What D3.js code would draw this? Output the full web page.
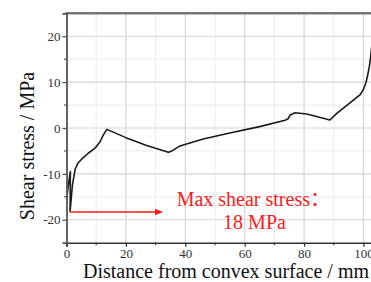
<!DOCTYPE html>
<html>
<head>
<meta charset="utf-8">
<script src="https://cdn.jsdelivr.net/npm/d3@7"></script>
<style>
  html, body { margin: 0; padding: 0; background: #fff; overflow: hidden; }
  svg { display: block; }
  svg text { font-family: "Liberation Serif", "Times New Roman", "Noto Sans CJK SC", serif !important; }
</style>
</head>
<body>
<div id="chart"></div>
<script>
// ---- data ----
const distance = [0, 0.5, 1.3, 1.2, 2.0, 2.9, 3.8, 5.1, 7.3, 9.6, 11.3, 12.4, 13.6, 20, 27, 34.3, 35.5, 38.2, 46, 55, 65, 73.6, 74.6, 75.3, 76.9, 80.9, 84.8, 88.7, 91, 94.5, 97, 98.8, 99.9, 100.8, 101.4, 102.0, 102.4, 102.8];
const shearStress = [-15.7, -13, -9.5, -18.2, -12.4, -9.0, -7.7, -6.8, -5.5, -4.4, -3.0, -1.5, -0.3, -2.1, -3.8, -5.3, -5.0, -3.9, -2.4, -1.1, 0.3, 1.7, 2.0, 2.85, 3.33, 3.05, 2.4, 1.74, 3.2, 5.0, 6.3, 7.2, 8.3, 9.8, 11.5, 13.5, 15.5, 18];
const xTicks = [0, 20, 40, 60, 80, 100];
const xMinorTicks = [10, 30, 50, 70, 90];
const yTicks = [-20, -10, 0, 10, 20];
const yMinorTicks = [-15, -5, 5, 15];
const arrowX = [1.2, 32.5];
const arrowY = -18.3;
const annotationLines = ["Max shear stress：", "18 MPa"];
const xLabel = "Distance from convex surface / mm";
const yLabel = "Shear stress / MPa";

// ---- layout ----
const W = 371, H = 282;
const mLeft = 66.5, mTop = 13.3, plotH = 229.4;
const xDomain = [0, 105], yDomain = [-25, 25];
const pxPerMm = 2.97;

const svg = d3.select("#chart").append("svg").attr("width", W).attr("height", H);

const x = d3.scaleLinear().domain(xDomain).range([mLeft, mLeft + pxPerMm * (xDomain[1] - xDomain[0])]);
const y = d3.scaleLinear().domain(yDomain).range([mTop + plotH, mTop]);
const x0 = x.range()[0], x1 = x.range()[1], y0 = y.range()[0], y1 = y.range()[1];

// grid
const grid = svg.append("g");
grid.selectAll(".gxm").data(xMinorTicks).join("line")
  .attr("x1", d => x(d)).attr("x2", d => x(d)).attr("y1", y1).attr("y2", y0)
  .attr("stroke", "#ececec").attr("stroke-width", 1);
grid.selectAll(".gym").data(yMinorTicks).join("line")
  .attr("y1", d => y(d)).attr("y2", d => y(d)).attr("x1", x0).attr("x2", x1)
  .attr("stroke", "#ececec").attr("stroke-width", 1);
grid.selectAll(".gx").data(xTicks.filter(d => d > 0)).join("line")
  .attr("x1", d => x(d)).attr("x2", d => x(d)).attr("y1", y1).attr("y2", y0)
  .attr("stroke", "#d6d6d6").attr("stroke-width", 1.2);
grid.selectAll(".gy").data(yTicks).join("line")
  .attr("y1", d => y(d)).attr("y2", d => y(d)).attr("x1", x0).attr("x2", x1)
  .attr("stroke", "#d6d6d6").attr("stroke-width", 1.2);

// clip
svg.append("clipPath").attr("id", "clip").append("rect")
  .attr("x", x0).attr("y", y1).attr("width", x1 - x0).attr("height", y0 - y1);

// curve
const line = d3.line().x((d, i) => x(distance[i])).y((d, i) => y(shearStress[i]));
svg.append("path").datum(shearStress)
  .attr("clip-path", "url(#clip)")
  .attr("d", line)
  .attr("fill", "none").attr("stroke", "#1a1a1a").attr("stroke-width", 1.6)
  .attr("stroke-linejoin", "round");

// top border
svg.append("line").attr("x1", x0 - 1).attr("x2", x1).attr("y1", y1).attr("y2", y1)
  .attr("stroke", "#777").attr("stroke-width", 2.4);

// axes
const fmt = d => String(d);
const xAxis = d3.axisBottom(x).tickValues(xTicks).tickFormat(fmt).tickSize(4).tickPadding(2);
const yAxis = d3.axisLeft(y).tickValues(yTicks).tickFormat(fmt).tickSize(4).tickPadding(2);

const gx = svg.append("g").attr("transform", `translate(0,${y0})`).call(xAxis);
gx.select(".domain").attr("stroke", "#333").attr("stroke-width", 1.6);
gx.selectAll(".tick line").attr("stroke", "#333").attr("stroke-width", 1.3);
gx.selectAll(".tick text").attr("font-size", 13).attr("fill", "#333");
gx.selectAll(".minor").data(xMinorTicks).join("line").attr("class", "minor")
  .attr("x1", d => x(d)).attr("x2", d => x(d)).attr("y1", 0).attr("y2", 2.5)
  .attr("stroke", "#333").attr("stroke-width", 1.2);

const gy = svg.append("g").attr("transform", `translate(${x0},0)`).call(yAxis);
gy.select(".domain").attr("stroke", "#555").attr("stroke-width", 1.8);
gy.selectAll(".tick line").attr("stroke", "#555").attr("stroke-width", 1.3);
gy.selectAll(".tick text").attr("font-size", 13).attr("fill", "#333");
gy.selectAll(".minor").data(yMinorTicks).join("line").attr("class", "minor")
  .attr("y1", d => y(d)).attr("y2", d => y(d)).attr("x1", -2.5).attr("x2", 0)
  .attr("stroke", "#555").attr("stroke-width", 1.2);

// axis titles
svg.append("text").attr("x", 83).attr("y", 278).attr("font-size", 20).attr("fill", "#111")
  .text(xLabel);
svg.append("text").attr("transform", `translate(34,146) rotate(-90)`)
  .attr("text-anchor", "middle").attr("font-size", 20).attr("fill", "#111")
  .text(yLabel);

// arrow annotation
const red = "#ff1a1a";
const ax0 = x(arrowX[0]), ax1 = x(arrowX[1]), ay = y(arrowY);
svg.append("line").attr("x1", ax0).attr("x2", ax1 - 6).attr("y1", ay).attr("y2", ay)
  .attr("stroke", red).attr("stroke-width", 1.6);
svg.append("path").attr("d", `M${ax1},${ay} L${ax1 - 8},${ay - 3.2} L${ax1 - 8},${ay + 3.2} Z`)
  .attr("fill", red);

svg.append("text").attr("x", x(37.1)).attr("y", y(-17.0)).attr("font-size", 20).attr("fill", red)
  .text(annotationLines[0]);
svg.append("text").attr("x", x(63.3)).attr("y", y(-22.0)).attr("text-anchor", "middle")
  .attr("font-size", 20).attr("fill", red)
  .text(annotationLines[1]);
</script>
</body>
</html>
